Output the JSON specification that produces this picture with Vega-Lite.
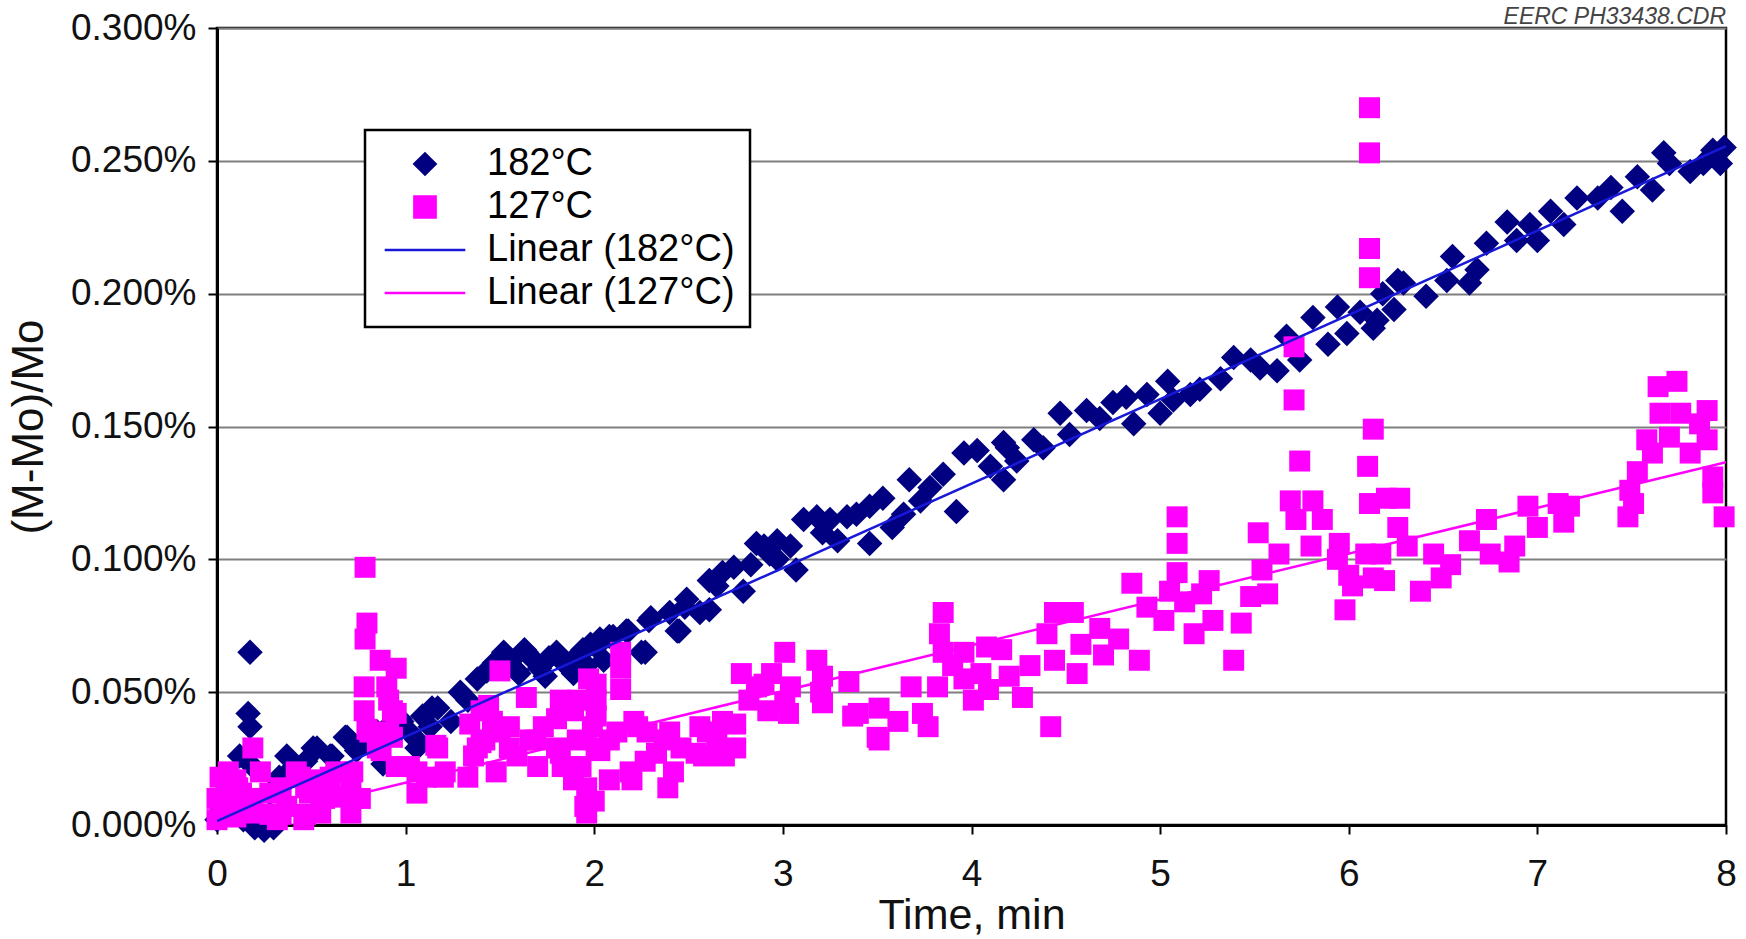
{
  "$schema": "https://vega.github.io/schema/vega-lite/v6.json",
  "width": 1509,
  "height": 797,
  "autosize": {"type": "none"},
  "padding": {"left": 217, "top": 28, "right": 20, "bottom": 114},
  "background": "white",
  "title": {"text": "EERC PH33438.CDR", "anchor": "end", "frame": "group", "font": "Liberation Sans", "fontStyle": "italic", "fontWeight": "normal", "fontSize": 23, "color": "#444444", "offset": -20},
  "config": {
    "font": "Liberation Sans",
    "view": {"stroke": "black", "strokeWidth": 2.5},
    "legend": {"orient": "none", "legendX": 148, "legendY": 102, "labelFontSize": 38, "labelFont": "Liberation Sans", "labelColor": "black", "strokeColor": "black", "strokeWidth": 2.5, "fillColor": "white", "padding": 15, "rowPadding": 5, "symbolSize": 450, "symbolOffset": 26, "labelOffset": 43, "symbolStrokeWidth": 2.5, "labelLimit": 400}
  },
  "data": {"values": [
    {"t":0.0,"v":0.002,"s":"182°C"},{"t":0.03,"v":0.006,"s":"182°C"},{"t":0.05,"v":0.011,"s":"182°C"},{"t":0.08,"v":0.004,"s":"182°C"},{"t":0.1,"v":0.014,"s":"182°C"},{"t":0.12,"v":0.026,"s":"182°C"},{"t":0.14,"v":0.002,"s":"182°C"},{"t":0.165,"v":0.042,"s":"182°C"},{"t":0.175,"v":0.037,"s":"182°C"},{"t":0.175,"v":0.065,"s":"182°C"},{"t":0.19,"v":0.022,"s":"182°C"},{"t":0.2,"v":-0.001,"s":"182°C"},{"t":0.25,"v":-0.002,"s":"182°C"},{"t":0.3,"v":-0.001,"s":"182°C"},{"t":0.28,"v":0.012,"s":"182°C"},{"t":0.33,"v":0.018,"s":"182°C"},{"t":0.37,"v":0.026,"s":"182°C"},{"t":0.38,"v":0.02,"s":"182°C"},{"t":0.38,"v":0.018,"s":"182°C"},{"t":0.42,"v":0.022,"s":"182°C"},{"t":0.47,"v":0.024,"s":"182°C"},{"t":0.51,"v":0.029,"s":"182°C"},{"t":0.53,"v":0.029,"s":"182°C"},{"t":0.6,"v":0.026,"s":"182°C"},{"t":0.61,"v":0.026,"s":"182°C"},{"t":0.63,"v":0.021,"s":"182°C"},{"t":0.68,"v":0.033,"s":"182°C"},{"t":0.69,"v":0.033,"s":"182°C"},{"t":0.74,"v":0.028,"s":"182°C"},{"t":0.8,"v":0.031,"s":"182°C"},{"t":0.85,"v":0.035,"s":"182°C"},{"t":0.88,"v":0.023,"s":"182°C"},{"t":0.92,"v":0.038,"s":"182°C"},{"t":0.97,"v":0.04,"s":"182°C"},{"t":0.98,"v":0.039,"s":"182°C"},{"t":1.02,"v":0.035,"s":"182°C"},{"t":1.06,"v":0.029,"s":"182°C"},{"t":1.06,"v":0.032,"s":"182°C"},{"t":1.09,"v":0.041,"s":"182°C"},{"t":1.13,"v":0.037,"s":"182°C"},{"t":1.14,"v":0.044,"s":"182°C"},{"t":1.17,"v":0.044,"s":"182°C"},{"t":1.24,"v":0.039,"s":"182°C"},{"t":1.29,"v":0.05,"s":"182°C"},{"t":1.33,"v":0.047,"s":"182°C"},{"t":1.38,"v":0.055,"s":"182°C"},{"t":1.43,"v":0.058,"s":"182°C"},{"t":1.47,"v":0.061,"s":"182°C"},{"t":1.52,"v":0.065,"s":"182°C"},{"t":1.53,"v":0.064,"s":"182°C"},{"t":1.56,"v":0.062,"s":"182°C"},{"t":1.59,"v":0.058,"s":"182°C"},{"t":1.6,"v":0.057,"s":"182°C"},{"t":1.63,"v":0.066,"s":"182°C"},{"t":1.64,"v":0.065,"s":"182°C"},{"t":1.68,"v":0.062,"s":"182°C"},{"t":1.71,"v":0.059,"s":"182°C"},{"t":1.74,"v":0.056,"s":"182°C"},{"t":1.76,"v":0.063,"s":"182°C"},{"t":1.8,"v":0.065,"s":"182°C"},{"t":1.84,"v":0.061,"s":"182°C"},{"t":1.87,"v":0.059,"s":"182°C"},{"t":1.89,"v":0.057,"s":"182°C"},{"t":1.9,"v":0.063,"s":"182°C"},{"t":1.94,"v":0.066,"s":"182°C"},{"t":1.96,"v":0.06,"s":"182°C"},{"t":1.98,"v":0.068,"s":"182°C"},{"t":2.01,"v":0.067,"s":"182°C"},{"t":2.03,"v":0.07,"s":"182°C"},{"t":2.05,"v":0.062,"s":"182°C"},{"t":2.08,"v":0.071,"s":"182°C"},{"t":2.1,"v":0.071,"s":"182°C"},{"t":2.17,"v":0.073,"s":"182°C"},{"t":2.18,"v":0.073,"s":"182°C"},{"t":2.25,"v":0.065,"s":"182°C"},{"t":2.27,"v":0.065,"s":"182°C"},{"t":2.29,"v":0.077,"s":"182°C"},{"t":2.3,"v":0.078,"s":"182°C"},{"t":2.4,"v":0.08,"s":"182°C"},{"t":2.44,"v":0.073,"s":"182°C"},{"t":2.45,"v":0.073,"s":"182°C"},{"t":2.48,"v":0.082,"s":"182°C"},{"t":2.49,"v":0.085,"s":"182°C"},{"t":2.56,"v":0.08,"s":"182°C"},{"t":2.61,"v":0.081,"s":"182°C"},{"t":2.61,"v":0.092,"s":"182°C"},{"t":2.65,"v":0.09,"s":"182°C"},{"t":2.68,"v":0.095,"s":"182°C"},{"t":2.74,"v":0.097,"s":"182°C"},{"t":2.79,"v":0.088,"s":"182°C"},{"t":2.83,"v":0.098,"s":"182°C"},{"t":2.86,"v":0.106,"s":"182°C"},{"t":2.9,"v":0.105,"s":"182°C"},{"t":2.93,"v":0.102,"s":"182°C"},{"t":2.97,"v":0.107,"s":"182°C"},{"t":2.97,"v":0.1,"s":"182°C"},{"t":3.04,"v":0.105,"s":"182°C"},{"t":3.07,"v":0.096,"s":"182°C"},{"t":3.11,"v":0.115,"s":"182°C"},{"t":3.18,"v":0.116,"s":"182°C"},{"t":3.21,"v":0.11,"s":"182°C"},{"t":3.25,"v":0.115,"s":"182°C"},{"t":3.29,"v":0.107,"s":"182°C"},{"t":3.34,"v":0.116,"s":"182°C"},{"t":3.39,"v":0.117,"s":"182°C"},{"t":3.46,"v":0.12,"s":"182°C"},{"t":3.46,"v":0.106,"s":"182°C"},{"t":3.53,"v":0.123,"s":"182°C"},{"t":3.58,"v":0.112,"s":"182°C"},{"t":3.64,"v":0.117,"s":"182°C"},{"t":3.67,"v":0.13,"s":"182°C"},{"t":3.73,"v":0.122,"s":"182°C"},{"t":3.78,"v":0.127,"s":"182°C"},{"t":3.85,"v":0.132,"s":"182°C"},{"t":3.92,"v":0.118,"s":"182°C"},{"t":3.96,"v":0.14,"s":"182°C"},{"t":4.03,"v":0.141,"s":"182°C"},{"t":4.1,"v":0.135,"s":"182°C"},{"t":4.17,"v":0.144,"s":"182°C"},{"t":4.17,"v":0.13,"s":"182°C"},{"t":4.19,"v":0.142,"s":"182°C"},{"t":4.24,"v":0.137,"s":"182°C"},{"t":4.33,"v":0.145,"s":"182°C"},{"t":4.38,"v":0.142,"s":"182°C"},{"t":4.47,"v":0.155,"s":"182°C"},{"t":4.52,"v":0.147,"s":"182°C"},{"t":4.61,"v":0.156,"s":"182°C"},{"t":4.68,"v":0.153,"s":"182°C"},{"t":4.75,"v":0.159,"s":"182°C"},{"t":4.82,"v":0.161,"s":"182°C"},{"t":4.86,"v":0.151,"s":"182°C"},{"t":4.93,"v":0.162,"s":"182°C"},{"t":5.0,"v":0.155,"s":"182°C"},{"t":5.04,"v":0.167,"s":"182°C"},{"t":5.07,"v":0.16,"s":"182°C"},{"t":5.16,"v":0.162,"s":"182°C"},{"t":5.21,"v":0.164,"s":"182°C"},{"t":5.32,"v":0.168,"s":"182°C"},{"t":5.39,"v":0.176,"s":"182°C"},{"t":5.48,"v":0.175,"s":"182°C"},{"t":5.53,"v":0.172,"s":"182°C"},{"t":5.62,"v":0.171,"s":"182°C"},{"t":5.67,"v":0.184,"s":"182°C"},{"t":5.74,"v":0.175,"s":"182°C"},{"t":5.81,"v":0.191,"s":"182°C"},{"t":5.89,"v":0.181,"s":"182°C"},{"t":5.94,"v":0.195,"s":"182°C"},{"t":5.99,"v":0.185,"s":"182°C"},{"t":6.06,"v":0.193,"s":"182°C"},{"t":6.13,"v":0.187,"s":"182°C"},{"t":6.15,"v":0.19,"s":"182°C"},{"t":6.18,"v":0.2,"s":"182°C"},{"t":6.24,"v":0.194,"s":"182°C"},{"t":6.26,"v":0.205,"s":"182°C"},{"t":6.29,"v":0.204,"s":"182°C"},{"t":6.41,"v":0.199,"s":"182°C"},{"t":6.52,"v":0.205,"s":"182°C"},{"t":6.55,"v":0.214,"s":"182°C"},{"t":6.64,"v":0.204,"s":"182°C"},{"t":6.68,"v":0.209,"s":"182°C"},{"t":6.73,"v":0.219,"s":"182°C"},{"t":6.84,"v":0.227,"s":"182°C"},{"t":6.89,"v":0.22,"s":"182°C"},{"t":6.96,"v":0.226,"s":"182°C"},{"t":7.0,"v":0.22,"s":"182°C"},{"t":7.07,"v":0.231,"s":"182°C"},{"t":7.14,"v":0.226,"s":"182°C"},{"t":7.21,"v":0.236,"s":"182°C"},{"t":7.32,"v":0.236,"s":"182°C"},{"t":7.39,"v":0.24,"s":"182°C"},{"t":7.45,"v":0.231,"s":"182°C"},{"t":7.53,"v":0.244,"s":"182°C"},{"t":7.61,"v":0.239,"s":"182°C"},{"t":7.67,"v":0.253,"s":"182°C"},{"t":7.7,"v":0.249,"s":"182°C"},{"t":7.81,"v":0.246,"s":"182°C"},{"t":7.88,"v":0.249,"s":"182°C"},{"t":7.93,"v":0.254,"s":"182°C"},{"t":7.97,"v":0.249,"s":"182°C"},{"t":7.99,"v":0.255,"s":"182°C"},
    {"t":0.0,"v":0.002,"s":"127°C"},{"t":0.0,"v":0.01,"s":"127°C"},{"t":0.016,"v":0.018,"s":"127°C"},{"t":0.03,"v":0.006,"s":"127°C"},{"t":0.05,"v":0.014,"s":"127°C"},{"t":0.06,"v":0.02,"s":"127°C"},{"t":0.07,"v":0.009,"s":"127°C"},{"t":0.08,"v":0.007,"s":"127°C"},{"t":0.1,"v":0.017,"s":"127°C"},{"t":0.1,"v":0.003,"s":"127°C"},{"t":0.11,"v":0.014,"s":"127°C"},{"t":0.13,"v":0.012,"s":"127°C"},{"t":0.175,"v":0.0045,"s":"127°C"},{"t":0.19,"v":0.029,"s":"127°C"},{"t":0.19,"v":0.01,"s":"127°C"},{"t":0.23,"v":0.02,"s":"127°C"},{"t":0.28,"v":0.012,"s":"127°C"},{"t":0.28,"v":0.004,"s":"127°C"},{"t":0.32,"v":0.002,"s":"127°C"},{"t":0.34,"v":0.014,"s":"127°C"},{"t":0.34,"v":0.004,"s":"127°C"},{"t":0.37,"v":0.007,"s":"127°C"},{"t":0.42,"v":0.02,"s":"127°C"},{"t":0.44,"v":0.018,"s":"127°C"},{"t":0.46,"v":0.002,"s":"127°C"},{"t":0.47,"v":0.014,"s":"127°C"},{"t":0.47,"v":0.004,"s":"127°C"},{"t":0.49,"v":0.012,"s":"127°C"},{"t":0.53,"v":0.017,"s":"127°C"},{"t":0.55,"v":0.0045,"s":"127°C"},{"t":0.57,"v":0.01,"s":"127°C"},{"t":0.6,"v":0.018,"s":"127°C"},{"t":0.62,"v":0.0105,"s":"127°C"},{"t":0.63,"v":0.02,"s":"127°C"},{"t":0.71,"v":0.0045,"s":"127°C"},{"t":0.71,"v":0.017,"s":"127°C"},{"t":0.72,"v":0.01,"s":"127°C"},{"t":0.72,"v":0.02,"s":"127°C"},{"t":0.76,"v":0.01,"s":"127°C"},{"t":0.78,"v":0.043,"s":"127°C"},{"t":0.78,"v":0.052,"s":"127°C"},{"t":0.785,"v":0.07,"s":"127°C"},{"t":0.785,"v":0.097,"s":"127°C"},{"t":0.795,"v":0.076,"s":"127°C"},{"t":0.795,"v":0.036,"s":"127°C"},{"t":0.81,"v":0.035,"s":"127°C"},{"t":0.85,"v":0.029,"s":"127°C"},{"t":0.865,"v":0.062,"s":"127°C"},{"t":0.87,"v":0.028,"s":"127°C"},{"t":0.9,"v":0.052,"s":"127°C"},{"t":0.91,"v":0.047,"s":"127°C"},{"t":0.91,"v":0.035,"s":"127°C"},{"t":0.93,"v":0.043,"s":"127°C"},{"t":0.93,"v":0.033,"s":"127°C"},{"t":0.95,"v":0.059,"s":"127°C"},{"t":0.95,"v":0.042,"s":"127°C"},{"t":0.95,"v":0.022,"s":"127°C"},{"t":1.02,"v":0.022,"s":"127°C"},{"t":1.06,"v":0.012,"s":"127°C"},{"t":1.06,"v":0.02,"s":"127°C"},{"t":1.11,"v":0.018,"s":"127°C"},{"t":1.16,"v":0.03,"s":"127°C"},{"t":1.17,"v":0.029,"s":"127°C"},{"t":1.2,"v":0.018,"s":"127°C"},{"t":1.21,"v":0.02,"s":"127°C"},{"t":1.33,"v":0.018,"s":"127°C"},{"t":1.34,"v":0.038,"s":"127°C"},{"t":1.36,"v":0.026,"s":"127°C"},{"t":1.38,"v":0.029,"s":"127°C"},{"t":1.4,"v":0.043,"s":"127°C"},{"t":1.4,"v":0.031,"s":"127°C"},{"t":1.42,"v":0.032,"s":"127°C"},{"t":1.44,"v":0.045,"s":"127°C"},{"t":1.46,"v":0.039,"s":"127°C"},{"t":1.48,"v":0.02,"s":"127°C"},{"t":1.5,"v":0.058,"s":"127°C"},{"t":1.5,"v":0.035,"s":"127°C"},{"t":1.55,"v":0.029,"s":"127°C"},{"t":1.55,"v":0.037,"s":"127°C"},{"t":1.59,"v":0.026,"s":"127°C"},{"t":1.64,"v":0.048,"s":"127°C"},{"t":1.66,"v":0.032,"s":"127°C"},{"t":1.69,"v":0.032,"s":"127°C"},{"t":1.7,"v":0.022,"s":"127°C"},{"t":1.73,"v":0.037,"s":"127°C"},{"t":1.8,"v":0.029,"s":"127°C"},{"t":1.8,"v":0.04,"s":"127°C"},{"t":1.82,"v":0.047,"s":"127°C"},{"t":1.82,"v":0.027,"s":"127°C"},{"t":1.83,"v":0.022,"s":"127°C"},{"t":1.89,"v":0.043,"s":"127°C"},{"t":1.89,"v":0.017,"s":"127°C"},{"t":1.91,"v":0.047,"s":"127°C"},{"t":1.91,"v":0.032,"s":"127°C"},{"t":1.93,"v":0.022,"s":"127°C"},{"t":1.95,"v":0.007,"s":"127°C"},{"t":1.96,"v":0.014,"s":"127°C"},{"t":1.96,"v":0.0045,"s":"127°C"},{"t":1.97,"v":0.055,"s":"127°C"},{"t":1.99,"v":0.037,"s":"127°C"},{"t":2.0,"v":0.009,"s":"127°C"},{"t":2.01,"v":0.029,"s":"127°C"},{"t":2.01,"v":0.041,"s":"127°C"},{"t":2.01,"v":0.047,"s":"127°C"},{"t":2.01,"v":0.053,"s":"127°C"},{"t":2.03,"v":0.028,"s":"127°C"},{"t":2.08,"v":0.032,"s":"127°C"},{"t":2.08,"v":0.017,"s":"127°C"},{"t":2.12,"v":0.035,"s":"127°C"},{"t":2.14,"v":0.051,"s":"127°C"},{"t":2.14,"v":0.059,"s":"127°C"},{"t":2.14,"v":0.065,"s":"127°C"},{"t":2.19,"v":0.02,"s":"127°C"},{"t":2.2,"v":0.017,"s":"127°C"},{"t":2.21,"v":0.039,"s":"127°C"},{"t":2.23,"v":0.037,"s":"127°C"},{"t":2.27,"v":0.024,"s":"127°C"},{"t":2.28,"v":0.035,"s":"127°C"},{"t":2.33,"v":0.027,"s":"127°C"},{"t":2.37,"v":0.032,"s":"127°C"},{"t":2.39,"v":0.014,"s":"127°C"},{"t":2.4,"v":0.035,"s":"127°C"},{"t":2.42,"v":0.02,"s":"127°C"},{"t":2.46,"v":0.029,"s":"127°C"},{"t":2.54,"v":0.027,"s":"127°C"},{"t":2.56,"v":0.037,"s":"127°C"},{"t":2.58,"v":0.026,"s":"127°C"},{"t":2.6,"v":0.035,"s":"127°C"},{"t":2.65,"v":0.032,"s":"127°C"},{"t":2.68,"v":0.039,"s":"127°C"},{"t":2.69,"v":0.026,"s":"127°C"},{"t":2.75,"v":0.038,"s":"127°C"},{"t":2.75,"v":0.029,"s":"127°C"},{"t":2.78,"v":0.057,"s":"127°C"},{"t":2.82,"v":0.047,"s":"127°C"},{"t":2.86,"v":0.052,"s":"127°C"},{"t":2.9,"v":0.053,"s":"127°C"},{"t":2.92,"v":0.043,"s":"127°C"},{"t":2.94,"v":0.057,"s":"127°C"},{"t":3.01,"v":0.065,"s":"127°C"},{"t":3.01,"v":0.046,"s":"127°C"},{"t":3.03,"v":0.042,"s":"127°C"},{"t":3.04,"v":0.052,"s":"127°C"},{"t":3.18,"v":0.062,"s":"127°C"},{"t":3.2,"v":0.05,"s":"127°C"},{"t":3.21,"v":0.046,"s":"127°C"},{"t":3.21,"v":0.056,"s":"127°C"},{"t":3.35,"v":0.054,"s":"127°C"},{"t":3.37,"v":0.041,"s":"127°C"},{"t":3.4,"v":0.042,"s":"127°C"},{"t":3.5,"v":0.033,"s":"127°C"},{"t":3.51,"v":0.044,"s":"127°C"},{"t":3.51,"v":0.032,"s":"127°C"},{"t":3.61,"v":0.039,"s":"127°C"},{"t":3.68,"v":0.052,"s":"127°C"},{"t":3.74,"v":0.042,"s":"127°C"},{"t":3.77,"v":0.037,"s":"127°C"},{"t":3.82,"v":0.052,"s":"127°C"},{"t":3.83,"v":0.072,"s":"127°C"},{"t":3.85,"v":0.08,"s":"127°C"},{"t":3.85,"v":0.065,"s":"127°C"},{"t":3.9,"v":0.06,"s":"127°C"},{"t":3.96,"v":0.065,"s":"127°C"},{"t":3.96,"v":0.055,"s":"127°C"},{"t":4.01,"v":0.047,"s":"127°C"},{"t":4.05,"v":0.057,"s":"127°C"},{"t":4.08,"v":0.067,"s":"127°C"},{"t":4.09,"v":0.051,"s":"127°C"},{"t":4.16,"v":0.066,"s":"127°C"},{"t":4.2,"v":0.056,"s":"127°C"},{"t":4.27,"v":0.048,"s":"127°C"},{"t":4.31,"v":0.06,"s":"127°C"},{"t":4.4,"v":0.072,"s":"127°C"},{"t":4.42,"v":0.037,"s":"127°C"},{"t":4.44,"v":0.08,"s":"127°C"},{"t":4.44,"v":0.062,"s":"127°C"},{"t":4.54,"v":0.08,"s":"127°C"},{"t":4.56,"v":0.057,"s":"127°C"},{"t":4.58,"v":0.068,"s":"127°C"},{"t":4.68,"v":0.074,"s":"127°C"},{"t":4.7,"v":0.064,"s":"127°C"},{"t":4.78,"v":0.07,"s":"127°C"},{"t":4.85,"v":0.091,"s":"127°C"},{"t":4.89,"v":0.062,"s":"127°C"},{"t":4.93,"v":0.082,"s":"127°C"},{"t":5.02,"v":0.077,"s":"127°C"},{"t":5.05,"v":0.088,"s":"127°C"},{"t":5.09,"v":0.116,"s":"127°C"},{"t":5.09,"v":0.106,"s":"127°C"},{"t":5.09,"v":0.095,"s":"127°C"},{"t":5.13,"v":0.084,"s":"127°C"},{"t":5.18,"v":0.072,"s":"127°C"},{"t":5.22,"v":0.087,"s":"127°C"},{"t":5.26,"v":0.092,"s":"127°C"},{"t":5.28,"v":0.077,"s":"127°C"},{"t":5.39,"v":0.062,"s":"127°C"},{"t":5.43,"v":0.076,"s":"127°C"},{"t":5.48,"v":0.086,"s":"127°C"},{"t":5.52,"v":0.11,"s":"127°C"},{"t":5.54,"v":0.096,"s":"127°C"},{"t":5.57,"v":0.087,"s":"127°C"},{"t":5.63,"v":0.102,"s":"127°C"},{"t":5.69,"v":0.122,"s":"127°C"},{"t":5.71,"v":0.18,"s":"127°C"},{"t":5.71,"v":0.16,"s":"127°C"},{"t":5.72,"v":0.115,"s":"127°C"},{"t":5.74,"v":0.137,"s":"127°C"},{"t":5.8,"v":0.105,"s":"127°C"},{"t":5.81,"v":0.122,"s":"127°C"},{"t":5.86,"v":0.115,"s":"127°C"},{"t":5.94,"v":0.1,"s":"127°C"},{"t":5.95,"v":0.106,"s":"127°C"},{"t":5.98,"v":0.081,"s":"127°C"},{"t":6.0,"v":0.094,"s":"127°C"},{"t":6.02,"v":0.09,"s":"127°C"},{"t":6.09,"v":0.102,"s":"127°C"},{"t":6.1,"v":0.135,"s":"127°C"},{"t":6.11,"v":0.121,"s":"127°C"},{"t":6.11,"v":0.27,"s":"127°C"},{"t":6.11,"v":0.253,"s":"127°C"},{"t":6.11,"v":0.217,"s":"127°C"},{"t":6.11,"v":0.206,"s":"127°C"},{"t":6.13,"v":0.093,"s":"127°C"},{"t":6.13,"v":0.149,"s":"127°C"},{"t":6.17,"v":0.102,"s":"127°C"},{"t":6.19,"v":0.092,"s":"127°C"},{"t":6.2,"v":0.123,"s":"127°C"},{"t":6.26,"v":0.112,"s":"127°C"},{"t":6.27,"v":0.123,"s":"127°C"},{"t":6.31,"v":0.105,"s":"127°C"},{"t":6.38,"v":0.088,"s":"127°C"},{"t":6.45,"v":0.102,"s":"127°C"},{"t":6.49,"v":0.093,"s":"127°C"},{"t":6.54,"v":0.098,"s":"127°C"},{"t":6.64,"v":0.107,"s":"127°C"},{"t":6.73,"v":0.115,"s":"127°C"},{"t":6.75,"v":0.102,"s":"127°C"},{"t":6.85,"v":0.099,"s":"127°C"},{"t":6.88,"v":0.105,"s":"127°C"},{"t":6.95,"v":0.12,"s":"127°C"},{"t":7.0,"v":0.112,"s":"127°C"},{"t":7.11,"v":0.121,"s":"127°C"},{"t":7.14,"v":0.114,"s":"127°C"},{"t":7.17,"v":0.12,"s":"127°C"},{"t":7.48,"v":0.116,"s":"127°C"},{"t":7.49,"v":0.126,"s":"127°C"},{"t":7.51,"v":0.121,"s":"127°C"},{"t":7.53,"v":0.133,"s":"127°C"},{"t":7.58,"v":0.145,"s":"127°C"},{"t":7.61,"v":0.14,"s":"127°C"},{"t":7.64,"v":0.165,"s":"127°C"},{"t":7.65,"v":0.155,"s":"127°C"},{"t":7.7,"v":0.146,"s":"127°C"},{"t":7.74,"v":0.167,"s":"127°C"},{"t":7.76,"v":0.155,"s":"127°C"},{"t":7.81,"v":0.14,"s":"127°C"},{"t":7.86,"v":0.151,"s":"127°C"},{"t":7.9,"v":0.156,"s":"127°C"},{"t":7.9,"v":0.145,"s":"127°C"},{"t":7.93,"v":0.131,"s":"127°C"},{"t":7.93,"v":0.125,"s":"127°C"},{"t":7.99,"v":0.116,"s":"127°C"},
    {"t":0,"v":0.0015,"s":"Linear (182°C)"},{"t":8,"v":0.2555,"s":"Linear (182°C)"},
    {"t":0,"v":-0.0013,"s":"Linear (127°C)"},{"t":8,"v":0.1366,"s":"Linear (127°C)"}
  ]},
  "encoding": {
    "x": {"field": "t", "type": "quantitative", "scale": {"domain": [0, 8], "nice": false, "zero": false},
      "axis": {"values": [0,1,2,3,4,5,6,7,8], "grid": false, "domainColor": "black", "domainWidth": 3, "tickColor": "black", "tickSize": 9, "tickWidth": 2, "labelFontSize": 37, "labelColor": "#111111", "labelPadding": 22, "labelFlush": false, "title": "Time, min", "titleFontSize": 43, "titleFontWeight": "normal", "titleColor": "#111111", "titlePadding": 2}},
    "y": {"field": "v", "type": "quantitative", "scale": {"domain": [0, 0.3], "nice": false, "zero": false},
      "axis": {"values": [0,0.05,0.1,0.15,0.2,0.25,0.3], "grid": true, "gridColor": "#7f7f7f", "gridWidth": 2, "domainColor": "black", "domainWidth": 3, "tickColor": "black", "tickSize": 9, "tickWidth": 2, "labelExpr": "format(datum.value, '.3f') + '%'", "labelFontSize": 37, "labelColor": "#111111", "labelPadding": 12, "title": "(M-Mo)/Mo", "titleFontSize": 44, "titleFontWeight": "normal", "titleColor": "#111111", "titlePadding": 19}},
    "color": {"field": "s", "type": "nominal",
      "scale": {"domain": ["182°C", "127°C", "Linear (182°C)", "Linear (127°C)"], "range": ["#000080", "#ff00ff", "#1818d8", "#ff00ff"]},
      "legend": {"title": null, "encode": {"symbols": {"update": {"stroke": {"scale": "color", "field": "value"}, "strokeWidth": {"value": 2.5}, "opacity": {"value": 1}}}}}},
    "shape": {"field": "s", "type": "nominal",
      "scale": {"domain": ["182°C", "127°C", "Linear (182°C)", "Linear (127°C)"], "range": ["diamond", "square", "M -3.8 0 L 3.8 0", "M -3.8 0 L 3.8 0"]},
      "legend": {"title": null}}
  },
  "layer": [
    {"transform": [{"filter": "datum.s === '182°C'"}], "mark": {"type": "point", "filled": true, "opacity": 1, "size": 650, "strokeWidth": 0}},
    {"transform": [{"filter": "datum.s === '127°C'"}], "mark": {"type": "point", "filled": true, "opacity": 1, "size": 440, "strokeWidth": 0}},
    {"transform": [{"filter": "indexof(datum.s, 'Linear') === 0"}], "mark": {"type": "line", "strokeWidth": 2.5, "clip": true}}
  ]
}
